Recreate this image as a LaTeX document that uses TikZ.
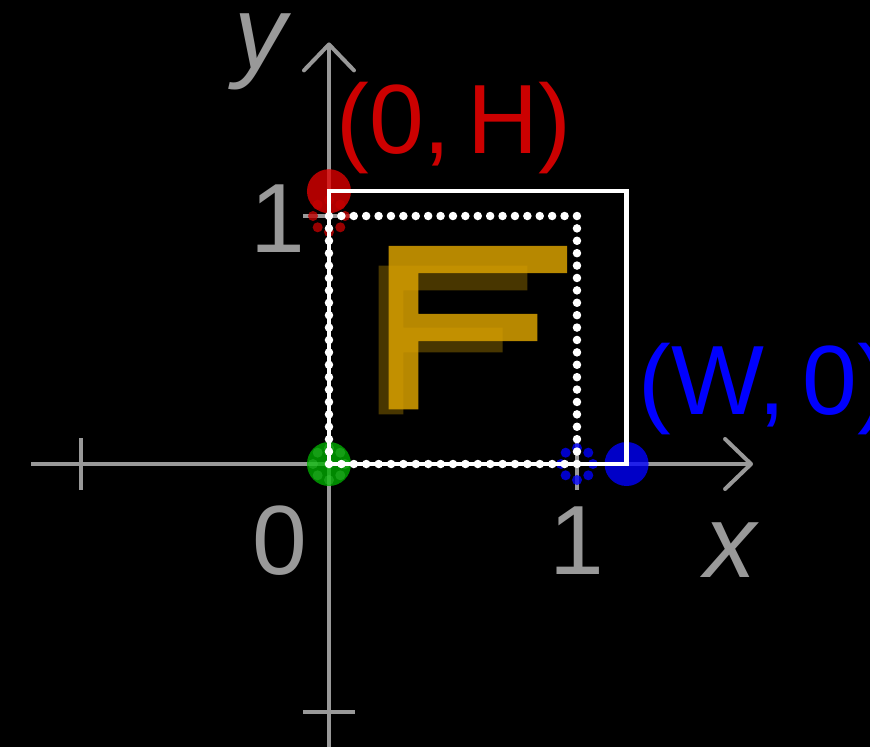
\documentclass[tikz,border=0pt]{standalone}
\usepackage{fontspec}
\setmainfont{Liberation Sans}
\usetikzlibrary{arrows.meta}
\definecolor{axisgray}{RGB}{153,153,153}
\definecolor{labelred}{RGB}{204,0,0}
\definecolor{cornerred}{RGB}{225,0,0}
\definecolor{cornerblue}{RGB}{0,0,255}
\definecolor{cornergreen}{RGB}{0,175,0}
\definecolor{dotred}{RGB}{195,0,0}
\definecolor{dotgreen}{RGB}{70,210,70}
\definecolor{fgold}{RGB}{216,160,0}
\definecolor{fshadow}{RGB}{72,54,0}
\tikzset{
  axisline/.style={draw=axisgray,line width=0.04cm},
  axisarrow/.style={axisline,-{Straight Barb[length=0.26cm,width=0.5cm,round]}},
  numlabel/.style={text=axisgray,font=\fontsize{28}{32}\selectfont,inner sep=0pt},
  varlabel/.style={text=axisgray,font=\fontsize{29.5}{34}\selectfont\itshape,inner sep=0pt},
  ptlabel/.style={font=\fontsize{28}{32}\selectfont,inner sep=0pt},
  cornerdot/.style={fill=#1,fill opacity=0.78},
  hitdot/.style={fill=#1,fill opacity=0.78},
  outline/.style={draw=white,line width=0.045cm},
  unitbox/.style={draw=white,line width=0.085cm,line cap=round,dash pattern=on 0pt off 0.124cm}
}
% the F in texture space
\newcommand{\Fglyph}{(0.2,0.2) -- (0.2,0.8) -- (0.8,0.8) -- (0.8,0.7) -- (0.3,0.7) -- (0.3,0.55) -- (0.7,0.55) -- (0.7,0.45) -- (0.3,0.45) -- (0.3,0.2) -- cycle}

\begin{document}
\begin{tikzpicture}[x=2.48cm,y=2.48cm]
  \fill[black,use as bounding box] (-1.3266,-1.1411) rectangle (2.1815,1.871);
  \clip (-1.3266,-1.1411) rectangle (2.1815,1.871);

  % axes
  \coordinate (O) at (0,0);
  \coordinate (xstart) at (-1.2,0);
  \coordinate (xend) at (1.71,0);
  \coordinate (ystart) at (0,-1.2);
  \coordinate (yend) at (0,1.70);
  \draw[axisarrow] (xstart) -- (xend);
  \draw[axisarrow] (ystart) -- (yend);
  \foreach \t in {-1,1} {
    \draw[axisline] (\t,-0.105) -- (\t,0.105);
    \draw[axisline] (-0.105,\t) -- (0.105,\t);
  }
  \node[numlabel] (zero) at (-0.2,-0.31) {0};
  \node[numlabel] (onex) at (1,-0.31) {1};
  \node[numlabel] (oney) at (-0.205,0.99) {1};
  \node[varlabel] (xlab) at (1.62,-0.347) {x};
  \node[varlabel] (ylab) at (-0.278,1.663) {y};

  % corners
  \coordinate (H) at (0,1.1);
  \coordinate (W) at (1.2,0);
  \node[ptlabel,text=labelred] (hlab) at (0.504,1.353) {(0,\,H)};
  \node[ptlabel,text=blue,anchor=west] (wlab) at (1.246,0.304) {(W,\,0)};
  \fill[cornerdot=cornerred] (H) circle[radius=0.22cm];
  \fill[cornerdot=cornerblue] (W) circle[radius=0.22cm];
  \fill[cornerdot=cornergreen] (O) circle[radius=0.22cm];
  \foreach \a in {0,45,...,315} {
    \fill[hitdot=dotred] (0,1) ++(\a:0.16cm) circle[radius=0.05cm];
    \fill[hitdot=cornerblue] (1,0) ++(\a:0.16cm) circle[radius=0.05cm];
    \fill[dotgreen,fill opacity=0.3] (O) ++(\a:0.16cm) circle[radius=0.05cm];
  }

  % F, texture and stretched
  \fill[fshadow] \Fglyph;
  \fill[fgold,fill opacity=0.85,xscale=1.2,yscale=1.1] \Fglyph;

  \draw[outline] (O) rectangle (W |- H);
  \draw[unitbox] (O) rectangle (1,1);
\end{tikzpicture}
\end{document}
